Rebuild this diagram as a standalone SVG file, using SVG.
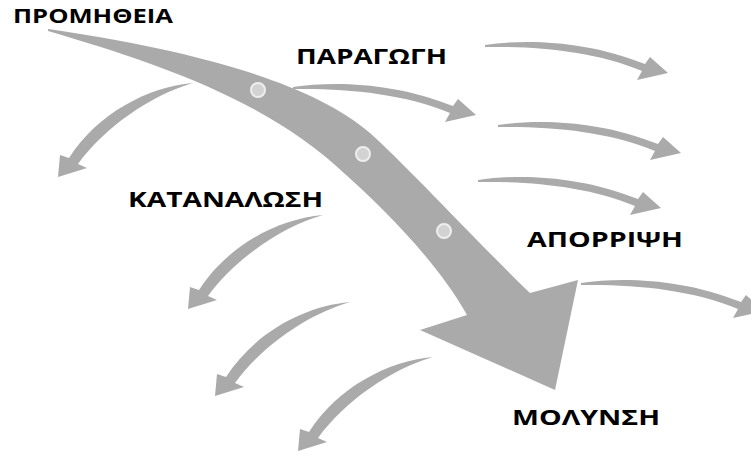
<svg xmlns="http://www.w3.org/2000/svg" xmlns:xlink="http://www.w3.org/1999/xlink" width="751" height="454" viewBox="0 0 751 454">
  <style>
    .arr { fill: #aaaaaa; }
    .dot { fill: #d2d2d2; stroke: #eeeeee; stroke-width: 2; }
    .lbl { font-family: "Open Sans", "Liberation Sans", sans-serif; font-weight: bold; fill: #000000; }
  </style>
  <defs>
    <path id="rarrow" class="arr" d="M0,0 C40,-6 100,-5 160,19 L165,12 L183,28 L152,35 L157,26 C110,6 50,1 0,2 Z"/>
    <path id="larrow" class="arr" d="M0,0 C-45,4 -95,30 -124,75 L-133,72 L-135,94 L-106,85 L-115,81 C-88,44 -42,12 0,0 Z"/>
  </defs>
  <rect width="751" height="454" fill="#ffffff"/>
  <g id="connectors">
    <use xlink:href="#larrow" href="#larrow" x="193" y="83"/>
    <use xlink:href="#larrow" href="#larrow" x="323" y="215"/>
    <use xlink:href="#larrow" href="#larrow" x="350" y="302"/>
    <use xlink:href="#larrow" href="#larrow" x="433" y="357"/>
    <use xlink:href="#rarrow" href="#rarrow" x="293" y="87"/>
    <use xlink:href="#rarrow" href="#rarrow" x="485" y="45"/>
    <use xlink:href="#rarrow" href="#rarrow" x="498" y="125"/>
    <use xlink:href="#rarrow" href="#rarrow" x="478" y="180"/>
    <use xlink:href="#rarrow" href="#rarrow" x="581" y="283"/>
    <path id="main-arrow" class="arr" d="M48,29 C180,48 310,80 370,133 C406,165 480,245 530,293 L578,280 L555,390 L420,330 L467,315 C438,263 386,211 345,174 C267,99 150,61 48,31 Z"/>
    <circle class="dot" cx="258" cy="90" r="7"/>
    <circle class="dot" cx="363" cy="154" r="7"/>
    <circle class="dot" cx="444" cy="231" r="7"/>
  </g>
  <g id="promitheia"><text class="lbl" x="13" y="23" font-size="19" textLength="160" lengthAdjust="spacingAndGlyphs">ΠΡΟΜΗΘΕΙΑ</text></g>
  <g id="paragogi"><text class="lbl" x="296" y="64" font-size="21" textLength="151" lengthAdjust="spacingAndGlyphs">ΠΑΡΑΓΩΓΗ</text></g>
  <g id="katanalosi"><text class="lbl" x="128" y="207" font-size="22" textLength="195" lengthAdjust="spacingAndGlyphs">ΚΑΤΑΝΑΛΩΣΗ</text></g>
  <g id="aporripsi"><text class="lbl" x="527" y="247" font-size="22" textLength="156" lengthAdjust="spacingAndGlyphs">ΑΠΟΡΡΙΨΗ</text></g>
  <g id="molynsi"><text class="lbl" x="512" y="425" font-size="22" textLength="148" lengthAdjust="spacingAndGlyphs">ΜΟΛΥΝΣΗ</text></g>
</svg>
